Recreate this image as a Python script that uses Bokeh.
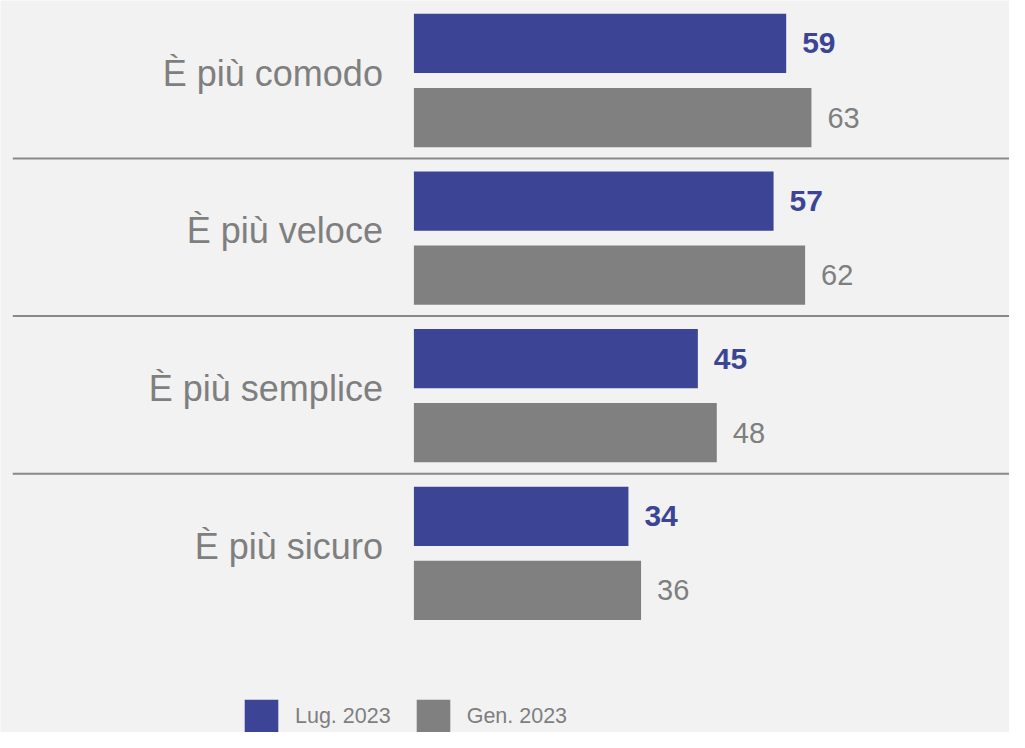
from bokeh.plotting import figure
from bokeh.models import Range1d, ColumnDataSource, Legend, LegendItem
from bokeh.transform import dodge
from bokeh.core.properties import value
from bokeh.embed import file_html
from bokeh.resources import INLINE

# ---- data ----
categories = ["È più comodo", "È più veloce", "È più semplice", "È più sicuro"]
lug_2023 = [59, 57, 45, 34]
gen_2023 = [63, 62, 48, 36]
series_names = ["Lug. 2023", "Gen. 2023"]

# ---- styles ----
BG = "#f2f2f2"
BLUE = "#3c4595"
GREY = "#808080"
TEXT_GREY = "#7f7f7f"
SEP = "#898989"
FONT_NAME = "Liberation Sans"
FONT = value(FONT_NAME)

W, H = 1009, 732

# x scale: value 0 at 413.4 px, 6.31 px per unit
X0_PX = 413.4
PX_PER_UNIT = 6.31
x_start = -X0_PX / PX_PER_UNIT
x_end = x_start + W / PX_PER_UNIT

# y scale: group index 0 centred at 80 px, 157.6 px per group (top -> bottom)
Y0_PX = 80.0
PX_PER_GROUP = 157.6
y_top = -Y0_PX / PX_PER_GROUP
y_bottom = y_top + H / PX_PER_GROUP

p = figure(width=W, height=H, output_backend="svg", toolbar_location=None,
           title=None,
           x_range=Range1d(x_start, x_end),
           y_range=Range1d(y_bottom, y_top),
           x_axis_location=None, y_axis_location=None,
           min_border_left=0, min_border_right=0, min_border_top=0,
           min_border_bottom=0)
p.grid.visible = False
p.outline_line_color = None
p.background_fill_color = BG
p.border_fill_color = BG

idx = list(range(len(categories)))
source = ColumnDataSource(dict(
    idx=idx,
    cat=categories,
    lug=lug_2023,
    gen=gen_2023,
    lug_txt=[str(v) for v in lug_2023],
    gen_txt=[str(v) for v in gen_2023],
))

OFF = 0.235
BAR_H = 0.376

r_lug = p.hbar(y=dodge("idx", -OFF), left=0, right="lug",
               height=BAR_H, fill_color=BLUE, line_color=None, source=source)
r_gen = p.hbar(y=dodge("idx", OFF), left=0, right="gen",
               height=BAR_H, fill_color=GREY, line_color=None, source=source)

# value labels
p.text(x="lug", y=dodge("idx", -OFF), text="lug_txt",
       x_offset=16, text_align="left", text_baseline="middle",
       text_font=FONT, text_font_size="30px", text_font_style="bold",
       text_color=BLUE, source=source)
p.text(x="gen", y=dodge("idx", OFF), text="gen_txt",
       x_offset=16, text_align="left", text_baseline="middle",
       text_font=FONT, text_font_size="29px",
       text_color=TEXT_GREY, source=source)

# category labels
p.text(x=0, y="idx", text="cat",
       x_offset=-31, y_offset=-7.3, text_align="right", text_baseline="middle",
       text_font=FONT, text_font_size="36px", text_color=TEXT_GREY,
       source=source)

# separators between groups
sep_source = ColumnDataSource(dict(idx=idx[:-1]))
p.segment(x0=-63.57, x1=x_end + 10,
          y0=dodge("idx", 0.495), y1=dodge("idx", 0.495),
          line_color=SEP, line_width=2, source=sep_source)

legend = Legend(
    items=[LegendItem(label=series_names[0], renderers=[r_lug]),
           LegendItem(label=series_names[1], renderers=[r_gen])],
    orientation="horizontal",
    location=(240, -5),
    glyph_width=42, glyph_height=42,
    label_standoff=13, spacing=21,
    padding=0, margin=0,
    border_line_color=None, background_fill_alpha=0,
    label_text_font=FONT_NAME, label_text_font_size="21.5px",
    label_text_color=TEXT_GREY,
)
p.add_layout(legend, "center")

open("out.html", "w").write(file_html(p, INLINE))
